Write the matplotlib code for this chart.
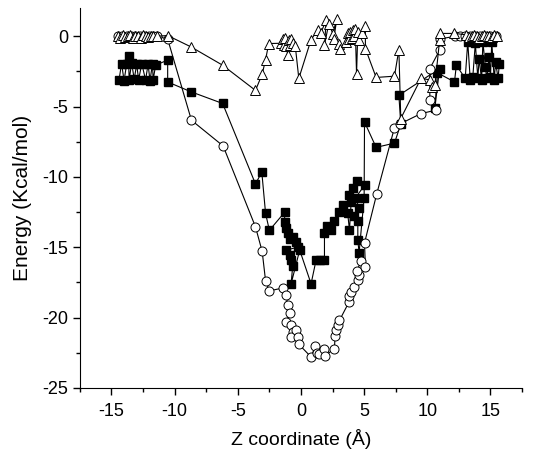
import matplotlib
matplotlib.use('Agg')
import matplotlib.pyplot as plt
from matplotlib.ticker import MultipleLocator

plt.rcParams['font.family'] = ['Liberation Sans', 'DejaVu Sans']
plt.rcParams['axes.unicode_minus'] = False

# filled squares
sq_x = [-14.4, -14.2, -14.0, -13.8, -13.65, -13.6, -13.4, -13.2, -13.0, -12.85,
        -12.6, -12.3, -12.1, -11.95, -11.75, -11.7, -11.5, -10.55, -10.55, -8.7,
        -6.2, -3.6, -3.1, -2.8, -2.5, -1.28, -1.3, -1.17, -1.05, -0.85,
        -0.65, -0.38, -0.25, -1.17, -0.9, -0.78, -0.65, -0.78, -0.1, 0.8,
        1.2, 1.5, 1.86, 1.86, 2.1, 2.4, 2.65, 3.05, 3.3, 3.7,
        3.84, 3.97, 3.84, 4.1, 4.47, 5.03, 4.3, 4.6, 4.2, 4.5,
        4.5, 4.6, 5.0, 5.03, 5.95, 7.4, 7.9, 7.75, 10.97, 10.6,
        10.8, 12.15, 12.3, 13.0, 13.2, 13.4, 13.6, 13.8, 14.0, 14.1,
        14.3, 14.4, 14.6, 14.7, 14.9, 15.0, 15.1, 15.3, 15.4, 15.6, 15.7]
sq_y = [-3.1, -1.95, -3.15, -2.0, -1.42, -3.1, -1.9, -3.05, -2.0, -3.1,
        -1.95, -3.1, -2.0, -3.15, -1.95, -3.1, -2.05, -1.7, -3.25, -3.95,
        -4.78, -10.5, -9.66, -12.6, -13.8, -12.5, -13.2, -13.66, -14.0, -14.4,
        -14.25, -14.6, -15.0, -15.2, -15.55, -15.9, -16.3, -17.6, -15.2, -17.6,
        -15.9, -15.9, -15.9, -14.0, -13.5, -13.8, -13.1, -12.5, -12.0, -12.6,
        -13.8, -11.8, -11.3, -10.8, -10.3, -10.6, -11.5, -12.2, -12.8, -13.1,
        -14.5, -15.4, -11.5, -6.1, -7.9, -7.6, -6.25, -4.2, -2.3, -5.1,
        -2.6, -3.25, -2.06, -3.0, -0.4, -3.1, -2.9, -0.5, -3.0, -1.6,
        -3.1, -0.4, -2.2, -3.0, -1.5, -2.9, -0.4, -3.1, -1.8, -3.0, -2.0]

# open circles
ci_x = [-14.5, -14.15, -13.8, -13.45, -13.1, -12.75, -12.4, -12.05, -11.7, -11.4,
        -10.55, -8.67, -6.16, -3.6, -3.07, -2.8, -2.5, -1.44, -1.17, -1.05,
        -0.9, -1.17, -0.78, -0.65, -0.78, -0.38, -0.25, -0.17, 0.8, 1.15,
        1.3, 1.46, 1.8, 1.94, 2.65, 2.7, 2.8, 2.9, 3.05, 3.8,
        3.84, 3.97, 4.2, 4.5, 4.6, 4.4, 4.77, 5.1, 5.03, 6.0,
        7.4, 7.8, 9.5, 10.7, 10.2, 10.2, 10.97, 10.97, 12.2, 12.6,
        13.0, 13.4, 13.8, 14.2, 14.6, 15.0, 15.4]
ci_y = [0.0, 0.0, 0.0, 0.0, 0.0, 0.0, 0.0, 0.0, 0.0, 0.0,
        -0.2, -5.97, -7.8, -13.55, -15.3, -17.4, -18.1, -17.9, -18.4, -19.1,
        -19.7, -20.3, -20.5, -21.0, -21.4, -20.9, -21.4, -21.9, -22.8, -22.0,
        -22.5, -22.6, -22.2, -22.7, -22.2, -21.3, -20.9, -20.5, -20.2, -18.9,
        -18.5, -18.2, -17.8, -17.3, -17.0, -16.7, -16.0, -16.4, -14.7, -11.2,
        -6.5, -6.25, -5.5, -5.25, -4.5, -2.3, -1.0, -0.2, 0.0, 0.0,
        0.0, 0.0, 0.0, 0.0, 0.0, 0.0, 0.0]

# open triangles
tr_x = [-14.5, -14.3, -14.1, -13.9, -13.7, -13.5, -13.3, -13.1, -12.9, -12.7,
        -12.5, -12.3, -12.1, -11.9, -11.7, -11.4, -10.55, -8.7, -6.2, -3.6,
        -3.07, -2.8, -2.55, -1.6, -1.45, -1.35, -1.25, -1.15, -1.05, -0.95,
        -0.85, -0.75, -0.6, -0.45, -0.17, 0.8, 1.33, 1.55, 2.0, 1.86,
        2.2, 2.52, 2.84, 2.6, 3.05, 3.1, 3.6, 3.7, 3.8, 3.9,
        4.0, 4.1, 4.2, 4.3, 4.4, 4.5, 4.6, 4.8, 5.1, 5.1,
        5.95, 7.4, 7.75, 7.9, 9.5, 10.2, 10.4, 10.6, 10.97, 10.97,
        12.15, 13.1, 13.3, 13.5, 13.7, 13.9, 14.1, 14.3, 14.5, 14.7,
        14.9, 15.1, 15.3, 15.5]
tr_y = [0.05, -0.1, 0.1, -0.05, 0.0, 0.1, -0.1, 0.05, 0.0, -0.1,
        0.1, 0.0, -0.05, 0.05, 0.0, 0.0, 0.05, -0.76, -2.06, -3.85,
        -2.7, -1.66, -0.52, -0.5, -0.2, -0.6, -0.15, -0.7, -1.35, -0.3,
        -0.6, -0.2, -0.5, -0.7, -3.0, -0.24, 0.43, 0.2, 1.14, -0.64,
        0.9, 0.19, 1.26, -0.2, -0.52, -0.9, -0.4, 0.2, -0.2, 0.3,
        -0.1, 0.45, 0.0, 0.5, -2.7, 0.3, -0.3, 0.2, 0.7, -0.88,
        -2.93, -2.84, -0.95, -5.85, -3.0, -3.1, -3.6, -3.5, -0.3, 0.2,
        0.2, 0.1, -0.05, 0.05, 0.1, 0.0, -0.1, 0.05, 0.1, 0.0,
        0.05, -0.05, 0.1, 0.05]

fig = plt.figure(figsize=(5.36, 4.5), dpi=100)
ax = fig.add_axes([0.149, 0.138, 0.825, 0.844])

ax.plot(sq_x, sq_y, '-s', color='black', lw=0.8, ms=6,
        mfc='black', mec='black')
ax.plot(ci_x, ci_y, '-o', color='black', lw=0.8, ms=6.5,
        mfc='white', mec='black', mew=0.7)
ax.plot(tr_x, tr_y, '-^', color='black', lw=0.8, ms=7.5,
        mfc='white', mec='black', mew=0.7)

ax.set_xlim(-17.5, 17.5)
ax.set_ylim(-25, 2)
ax.xaxis.set_major_locator(MultipleLocator(5))
ax.xaxis.set_minor_locator(MultipleLocator(2.5))
ax.yaxis.set_major_locator(MultipleLocator(5))
ax.yaxis.set_minor_locator(MultipleLocator(2.5))
ax.tick_params(which='major', direction='out', length=5, width=1, labelsize=13)
ax.tick_params(axis='x', which='major', pad=6)
ax.tick_params(which='minor', direction='out', length=3, width=1)

ax.spines['top'].set_visible(False)
ax.spines['right'].set_visible(False)

ax.set_xlabel('Z coordinate (Å)', fontsize=14, labelpad=6)
ax.set_ylabel('Energy (Kcal/mol)', fontsize=15, labelpad=7)

fig.savefig('out.png', dpi=100)
